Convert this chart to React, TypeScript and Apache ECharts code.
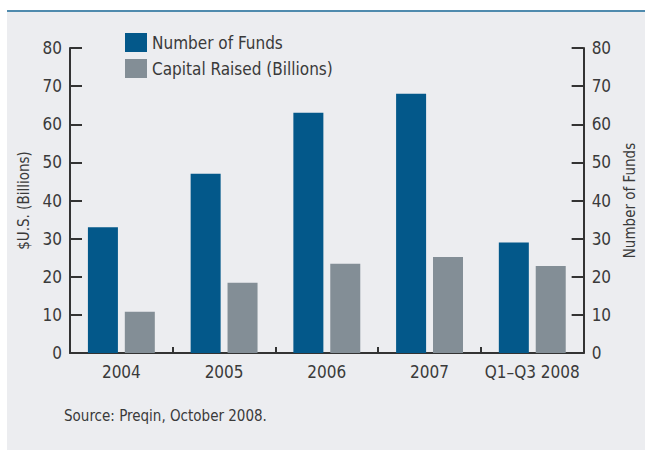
import React, { useEffect, useRef } from "react";
import * as echarts from "echarts";

const categories = ["2004", "2005", "2006", "2007", "Q1–Q3 2008"];
const numberOfFunds = [33, 47, 63, 68, 29];
const capitalRaised = [10.8, 18.4, 23.4, 25.2, 22.8];
const yTicks = { min: 0, max: 80, interval: 10 };

const FONT = "'Liberation Sans Narrow', 'DejaVu Sans Condensed', 'Liberation Sans', sans-serif";
const TEXT = "#3a3a3a";
const AXIS = "#333333";

export default function App() {
  const ref = useRef<HTMLDivElement>(null);
  useEffect(() => {
    document.body.style.margin = "0";
    const chart = echarts.init(ref.current!, undefined, { renderer: "svg" });
    const yAxisCommon = {
      type: "value",
      min: yTicks.min,
      max: yTicks.max,
      interval: yTicks.interval,
      nameLocation: "middle",
      nameRotate: 90,
      nameTextStyle: { fontFamily: FONT, fontSize: 15, color: TEXT },
      axisLine: { show: true, lineStyle: { color: AXIS, width: 2 } },
      axisTick: { show: true, inside: true, length: 12, lineStyle: { color: AXIS, width: 2 } },
      axisLabel: { fontFamily: FONT, fontSize: 17, color: TEXT, margin: 8 },
      splitLine: { show: false },
    };
    chart.setOption({
      animation: false,
      backgroundColor: "#ffffff",
      textStyle: { fontFamily: FONT },
      graphic: [
        { type: "rect", z: -10, shape: { x: 7, y: 10, width: 638, height: 440 }, style: { fill: "#ecedf0" } },
        { type: "rect", z: -9, shape: { x: 7, y: 10, width: 638, height: 2 }, style: { fill: "#4f8bae" } },
        {
          type: "text",
          x: 64,
          y: 416,
          style: { text: "Source: Preqin, October 2008.", fontFamily: FONT, fontSize: 15, fill: TEXT, verticalAlign: "middle" },
        },
      ],
      grid: { left: 70, right: 54, top: 48, bottom: 97 },
      legend: {
        left: 125,
        top: 33,
        orient: "vertical",
        padding: 0,
        itemWidth: 22,
        itemHeight: 19,
        itemGap: 7,
        icon: "rect",
        textStyle: { fontFamily: FONT, fontSize: 17, color: TEXT },
        data: ["Number of Funds", "Capital Raised (Billions)"],
      },
      xAxis: {
        type: "category",
        data: categories,
        axisLine: { lineStyle: { color: AXIS, width: 2 } },
        axisTick: { show: true, inside: true, length: 6, lineStyle: { color: AXIS, width: 2 } },
        axisLabel: { fontFamily: FONT, fontSize: 17, color: TEXT, margin: 10, interval: 0 },
      },
      yAxis: [
        { ...yAxisCommon, position: "left", name: "$U.S. (Billions)", nameGap: 36 },
        { ...yAxisCommon, position: "right", name: "Number of Funds", nameGap: 34 },
      ],
      series: [
        {
          name: "Number of Funds",
          type: "bar",
          yAxisIndex: 1,
          data: numberOfFunds,
          barWidth: 30,
          barGap: "23%",
          itemStyle: { color: "#03588a" },
        },
        {
          name: "Capital Raised (Billions)",
          type: "bar",
          yAxisIndex: 0,
          data: capitalRaised,
          barWidth: 30,
          barGap: "23%",
          itemStyle: { color: "#838e96" },
        },
      ],
    });
    return () => chart.dispose();
  }, []);
  return <div ref={ref} style={{ width: 645, height: 450 }} />;
}
